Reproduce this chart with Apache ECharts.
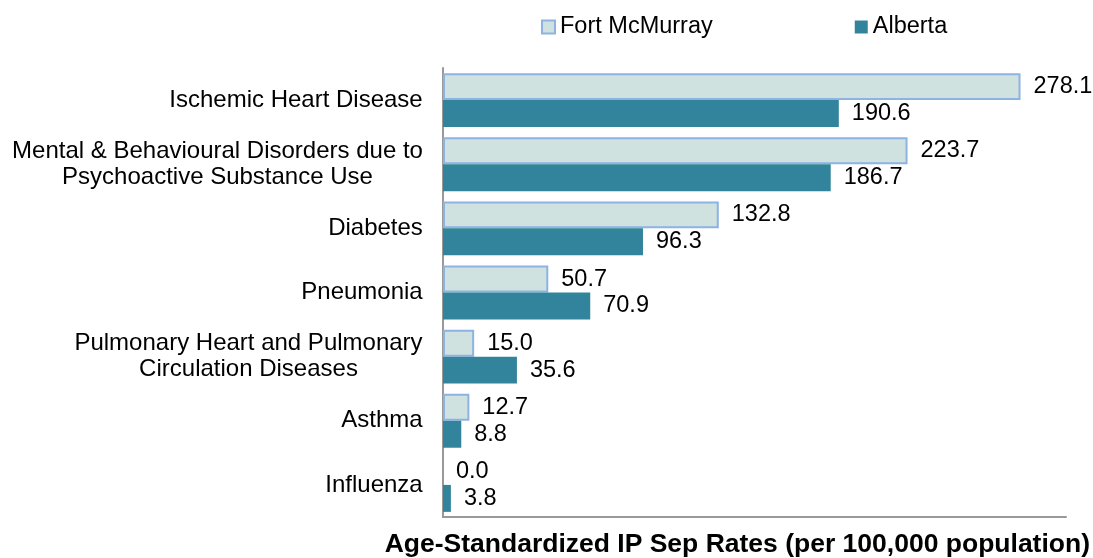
<!DOCTYPE html>
<html>
<head>
<meta charset="utf-8">
<script src="https://cdn.jsdelivr.net/npm/echarts@6/dist/echarts.min.js"></script>
<style>
  html, body { margin: 0; padding: 0; background: #fff; }
  #chart { width: 1093px; height: 558px; }
</style>
</head>
<body>
<div id="chart"></div>
<script>
// categories, top to bottom as shown
const categories = [
  'Ischemic Heart Disease',
  'Mental & Behavioural Disorders due to\nPsychoactive Substance Use',
  'Diabetes',
  'Pneumonia',
  'Pulmonary Heart and Pulmonary\nCirculation Diseases',
  'Asthma',
  'Influenza'
]
const fortMcMurray = [278.1, 223.7, 132.8, 50.7, 15.0, 12.7, 0.0]
const alberta = [190.6, 186.7, 96.3, 70.9, 35.6, 8.8, 3.8]

const FONT = 'Arial, Liberation Sans'
const CAT_SIZE = 24

// multi-line category labels are centred on their widest line
const ctx = document.createElement('canvas').getContext('2d')
ctx.font = CAT_SIZE + 'px ' + FONT
const catRich = {}
categories.forEach((c, i) => {
  const w = Math.max(...c.split('\n').map(s => ctx.measureText(s).width))
  catRich['c' + i] = { width: Math.ceil(w), align: 'center', fontSize: CAT_SIZE, lineHeight: 26, color: '#000' }
})

const chart = echarts.init(document.getElementById('chart'))

const labelStyle = {
  show: true,
  position: 'right',
  distance: 13,
  color: '#000',
  fontSize: 23.5,
  formatter: p => p.value.toFixed(1)
}

chart.setOption({
  animation: false,
  textStyle: { fontFamily: FONT },
  legend: {
    top: 15,
    left: 541,
    padding: 0,
    icon: 'rect',
    itemWidth: 13,
    itemHeight: 13,
    itemGap: 142,
    textStyle: { fontSize: 23.5, color: '#000' },
    data: [
      { name: 'Fort McMurray', itemStyle: { borderWidth: 2 } },
      'Alberta'
    ]
  },
  grid: {
    left: 443,
    right: 27,
    top: 68,
    bottom: 40
  },
  xAxis: {
    type: 'value',
    min: 0,
    max: 300,
    name: 'Age-Standardized IP Sep Rates (per 100,000 population)',
    nameLocation: 'end',
    nameGap: 0,
    nameTextStyle: {
      fontSize: 26.5,
      fontWeight: 'bold',
      color: '#000',
      align: 'right',
      verticalAlign: 'top',
      padding: [14, -24, 0, 0]
    },
    axisLine: { show: true, lineStyle: { color: '#999', width: 2 } },
    axisTick: { show: false },
    axisLabel: { show: false },
    splitLine: { show: false }
  },
  yAxis: {
    type: 'category',
    inverse: true,
    data: categories,
    axisLine: { show: true, lineStyle: { color: '#999', width: 2 } },
    axisTick: { show: false },
    axisLabel: {
      fontSize: CAT_SIZE,
      color: '#000',
      margin: 20,
      align: 'right',
      lineHeight: 26,
      formatter: (val, i) => val.split('\n').map(s => '{c' + i + '|' + s + '}').join('\n'),
      rich: catRich
    }
  },
  series: [
    {
      name: 'Fort McMurray',
      type: 'bar',
      data: fortMcMurray.map(v => (v === 0 ? { value: v, itemStyle: { borderWidth: 0 } } : v)),
      barGap: '0%',
      barCategoryGap: '16%',
      itemStyle: { color: '#d0e2df', borderColor: '#8db3e2', borderWidth: 2 },
      label: labelStyle
    },
    {
      name: 'Alberta',
      type: 'bar',
      data: alberta,
      itemStyle: { color: '#31849b' },
      label: labelStyle
    }
  ]
})
</script>
</body>
</html>
